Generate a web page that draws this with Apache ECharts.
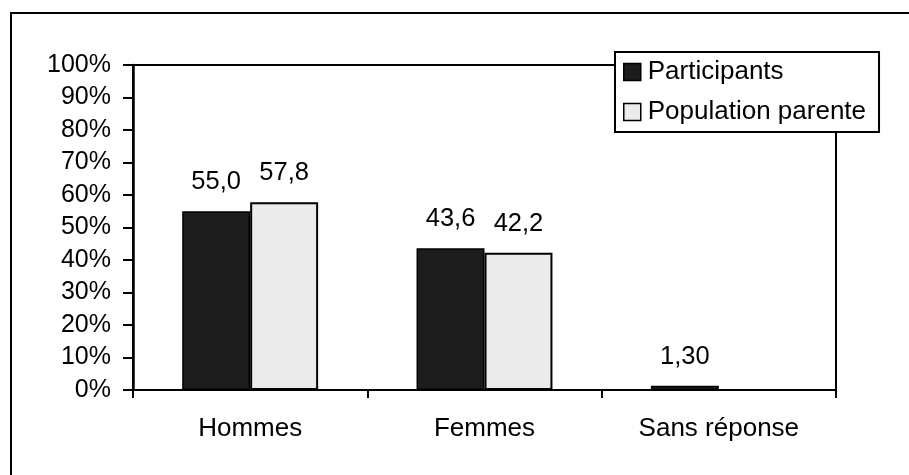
<!DOCTYPE html>
<html>
<head>
<meta charset="utf-8">
<script src="https://cdn.jsdelivr.net/npm/echarts@6/dist/echarts.min.js"></script>
<style>
html,body{margin:0;padding:0;background:#fff;}
#c{width:909px;height:475px;}
</style>
</head>
<body>
<div id="c"></div>
<script>
const categories = ['Hommes', 'Femmes', 'Sans réponse'];
const seriesNames = ['Participants', 'Population parente'];
const participants = [55.0, 43.6, 1.3];
const population = [57.8, 42.2, null];
const participantsLabels = ['55,0', '43,6', '1,30'];
const populationLabels = ['57,8', '42,2', ''];
const yTicks = {min: 0, max: 100, interval: 10};

const FONT = '"Liberation Sans", Arial, sans-serif';
const chart = echarts.init(document.getElementById('c'), null, {renderer: 'canvas'});

chart.setOption({
  animation: false,
  backgroundColor: '#fff',
  textStyle: {fontFamily: FONT, color: '#000'},
  graphic: [{
    type: 'rect',
    z: -10,
    shape: {x: 11, y: 13, width: 1000, height: 600},
    style: {fill: '#fff', stroke: '#000', lineWidth: 2}
  }],
  grid: {
    left: 133, right: 73, top: 65, bottom: 85,
    show: true, borderColor: '#000', borderWidth: 2, backgroundColor: '#fff'
  },
  legend: {
    orient: 'vertical',
    left: 615, top: 52,
    padding: [7, 13, 7, 8],
    backgroundColor: '#fff',
    borderColor: '#000',
    borderWidth: 2,
    itemWidth: 17, itemHeight: 17, itemGap: 14,
    icon: 'rect',
    textStyle: {fontFamily: FONT, fontSize: 26, color: '#000', lineHeight: 26, padding: [0,0,0,2]},
    itemStyle: {borderColor: '#000', borderWidth: 1.5},
    data: seriesNames
  },
  xAxis: {
    type: 'category',
    data: categories,
    axisLine: {lineStyle: {color: '#000', width: 2}},
    axisTick: {show: true, length: 8, lineStyle: {color: '#000', width: 2}},
    axisLabel: {fontFamily: FONT, fontSize: 26, color: '#000', margin: 26}
  },
  yAxis: {
    type: 'value',
    min: yTicks.min, max: yTicks.max, interval: yTicks.interval,
    axisLine: {show: true, lineStyle: {color: '#000', width: 2.5}},
    axisTick: {show: true, length: 10, lineStyle: {color: '#000', width: 2}},
    splitLine: {show: false},
    axisLabel: {fontFamily: FONT, fontSize: 25, color: '#000', margin: 22, formatter: '{value}%'}
  },
  series: [
    {
      name: seriesNames[0],
      type: 'bar',
      data: participants,
      barGap: '0%',
      barCategoryGap: '42%',
      itemStyle: {color: '#1c1c1c', borderColor: '#000', borderWidth: 1.5},
      label: {
        show: true, position: 'top', distance: 16,
        fontFamily: FONT, fontSize: 25.5, color: '#000',
        formatter: p => participantsLabels[p.dataIndex]
      }
    },
    {
      name: seriesNames[1],
      type: 'bar',
      data: population,
      itemStyle: {color: '#ebebeb', borderColor: '#000', borderWidth: 2},
      label: {
        show: true, position: 'top', distance: 16,
        fontFamily: FONT, fontSize: 25.5, color: '#000',
        formatter: p => populationLabels[p.dataIndex]
      }
    }
  ]
});
</script>
</body>
</html>
